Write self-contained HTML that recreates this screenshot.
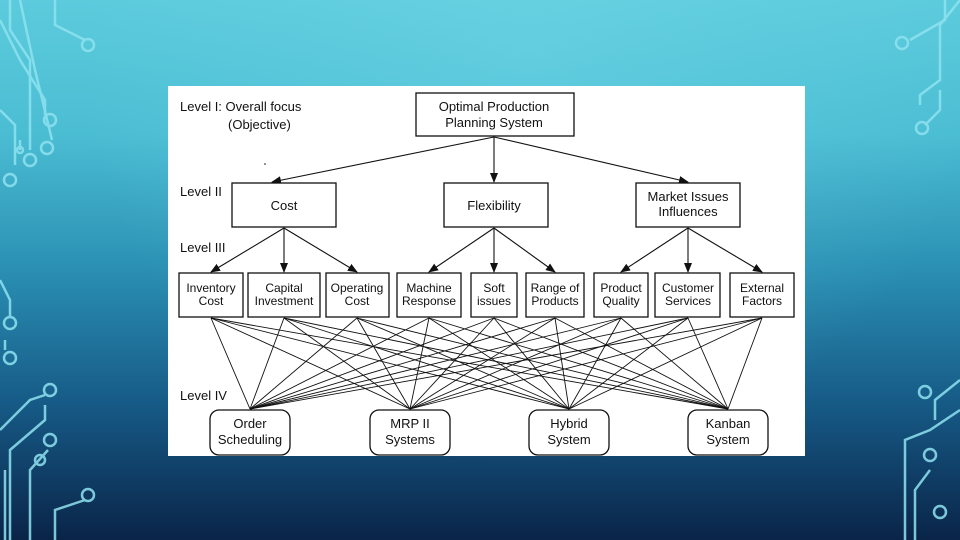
<!DOCTYPE html>
<html><head><meta charset="utf-8"><style>
html,body{margin:0;padding:0}
body{width:960px;height:540px;overflow:hidden;position:relative;
background:linear-gradient(180deg,#5ccbdc 0%,#4bbdd3 25%,#2a8fb3 50%,#165a86 75%,#0a2448 100%);}
.ov{position:absolute;inset:0;background:radial-gradient(ellipse at 55% 10%,rgba(120,220,235,0.35),rgba(0,0,0,0) 60%);}
svg{position:absolute;left:0;top:0}
text{font-family:"Liberation Sans",sans-serif;font-size:13px;fill:#111}
</style></head><body><div class="ov"></div>
<svg width="960" height="540" viewBox="0 0 960 540">
<g stroke="#8fe3f0" stroke-width="2.5" fill="none" opacity="0.85">
<path d="M10 0 V30 L30 60 V150"/><circle cx="30" cy="160" r="6"/>
<path d="M55 0 V25 L85 40"/><circle cx="88" cy="45" r="6"/>
<path d="M0 20 L20 60 L45 100 V115"/><circle cx="50" cy="120" r="6"/>
<path d="M20 0 L35 70 L52 140"/><circle cx="47" cy="148" r="6"/>
<path d="M0 110 L15 125 V165"/><circle cx="10" cy="180" r="6"/>
<path d="M20 140 V150"/><circle cx="20" cy="150" r="3"/>
<path d="M0 280 L10 300 V318"/><circle cx="10" cy="323" r="6"/>
<path d="M5 340 V350"/><circle cx="10" cy="358" r="6"/>
<path d="M0 430 L30 400 L45 395"/><circle cx="50" cy="390" r="6"/>
<path d="M10 540 V450 L45 420 V405"/>
<path d="M30 540 V470 L48 450"/><circle cx="50" cy="440" r="6"/>
<path d="M55 540 V510 L85 500"/><circle cx="88" cy="495" r="6"/>
<path d="M5 470 V540"/><circle cx="40" cy="460" r="5"/>
<path d="M960 0 L940 25 V80 L920 95 V105"/><circle cx="922" cy="128" r="6"/>
<path d="M945 0 V20 L910 40"/><circle cx="902" cy="43" r="6"/>
<path d="M940 90 V110 L925 125"/>
<path d="M960 380 L935 400 V420"/><circle cx="925" cy="392" r="6"/>
<path d="M960 410 L930 430 L905 440 V540"/><circle cx="930" cy="455" r="6"/>
<path d="M930 470 L915 490 V540"/><circle cx="940" cy="512" r="6"/>
</g>
<rect x="168" y="86" width="637" height="370" fill="#fff"/>
<defs><marker id="a" markerWidth="10" markerHeight="10" refX="9" refY="5" orient="auto" markerUnits="userSpaceOnUse"><path d="M0 1 L10 5 L0 9 Z" fill="#111"/></marker></defs>
<g stroke="#111" stroke-width="1.1" fill="none">
<line x1="494" y1="137" x2="272" y2="182" marker-end="url(#a)"/>
<line x1="494" y1="137" x2="494" y2="182" marker-end="url(#a)"/>
<line x1="494" y1="137" x2="688" y2="182" marker-end="url(#a)"/>
<line x1="284" y1="228" x2="211" y2="272" marker-end="url(#a)"/>
<line x1="284" y1="228" x2="284" y2="272" marker-end="url(#a)"/>
<line x1="284" y1="228" x2="357" y2="272" marker-end="url(#a)"/>
<line x1="494" y1="228" x2="429" y2="272" marker-end="url(#a)"/>
<line x1="494" y1="228" x2="494" y2="272" marker-end="url(#a)"/>
<line x1="494" y1="228" x2="555" y2="272" marker-end="url(#a)"/>
<line x1="688" y1="228" x2="621" y2="272" marker-end="url(#a)"/>
<line x1="688" y1="228" x2="688" y2="272" marker-end="url(#a)"/>
<line x1="688" y1="228" x2="762" y2="272" marker-end="url(#a)"/>
</g>
<g stroke="#111" stroke-width="0.9" id="mesh"></g>
<g stroke="#111" stroke-width="1.3" fill="#fff">
<rect x="416" y="93" width="158" height="43"/>
<rect x="232" y="183" width="104" height="44"/>
<rect x="444" y="183" width="104" height="44"/>
<rect x="636" y="183" width="104" height="44"/>
<rect x="179" y="273" width="64" height="44"/>
<rect x="248" y="273" width="72" height="44"/>
<rect x="326" y="273" width="63" height="44"/>
<rect x="397" y="273" width="64" height="44"/>
<rect x="471" y="273" width="46" height="44"/>
<rect x="526" y="273" width="58" height="44"/>
<rect x="594" y="273" width="54" height="44"/>
<rect x="655" y="273" width="65" height="44"/>
<rect x="730" y="273" width="64" height="44"/>
<rect x="210" y="410" width="80" height="45" rx="9"/>
<rect x="370" y="410" width="80" height="45" rx="9"/>
<rect x="529" y="410" width="80" height="45" rx="9"/>
<rect x="688" y="410" width="80" height="45" rx="9"/>
</g>
<g text-anchor="middle">
<text x="494" y="111">Optimal Production</text><text x="494" y="127">Planning System</text>
<text x="284" y="210">Cost</text>
<text x="494" y="210">Flexibility</text>
<text x="688" y="201">Market Issues</text><text x="688" y="216">Influences</text>
<g style="font-size:12px">
<text x="211" y="292" style="font-size:12px">Inventory</text><text x="211" y="305" style="font-size:12px">Cost</text>
<text x="284" y="292" style="font-size:12px">Capital</text><text x="284" y="305" style="font-size:12px">Investment</text>
<text x="357" y="292" style="font-size:12px">Operating</text><text x="357" y="305" style="font-size:12px">Cost</text>
<text x="429" y="292" style="font-size:12px">Machine</text><text x="429" y="305" style="font-size:12px">Response</text>
<text x="494" y="292" style="font-size:12px">Soft</text><text x="494" y="305" style="font-size:12px">issues</text>
<text x="555" y="292" style="font-size:12px">Range of</text><text x="555" y="305" style="font-size:12px">Products</text>
<text x="621" y="292" style="font-size:12px">Product</text><text x="621" y="305" style="font-size:12px">Quality</text>
<text x="688" y="292" style="font-size:12px">Customer</text><text x="688" y="305" style="font-size:12px">Services</text>
<text x="762" y="292" style="font-size:12px">External</text><text x="762" y="305" style="font-size:12px">Factors</text>
</g>
<text x="250" y="428">Order</text><text x="250" y="444">Scheduling</text>
<text x="410" y="428">MRP II</text><text x="410" y="444">Systems</text>
<text x="569" y="428">Hybrid</text><text x="569" y="444">System</text>
<text x="728" y="428">Kanban</text><text x="728" y="444">System</text>
</g>
<text x="180" y="111">Level I: Overall focus</text>
<text x="228" y="129">(Objective)</text>
<text x="180" y="196">Level II</text>
<text x="180" y="252">Level III</text>
<text x="180" y="400">Level IV</text>
<circle cx="265" cy="164" r="0.8" fill="#111"/>
</svg>
<script>
var g=document.getElementById('mesh'),ns='http://www.w3.org/2000/svg';
[211,284,357,429,494,555,621,688,762].forEach(function(x){[250,410,569,728].forEach(function(b){
var l=document.createElementNS(ns,'line');l.setAttribute('x1',x);l.setAttribute('y1',318);l.setAttribute('x2',b);l.setAttribute('y2',409);g.appendChild(l);});});
</script>
</body></html>
